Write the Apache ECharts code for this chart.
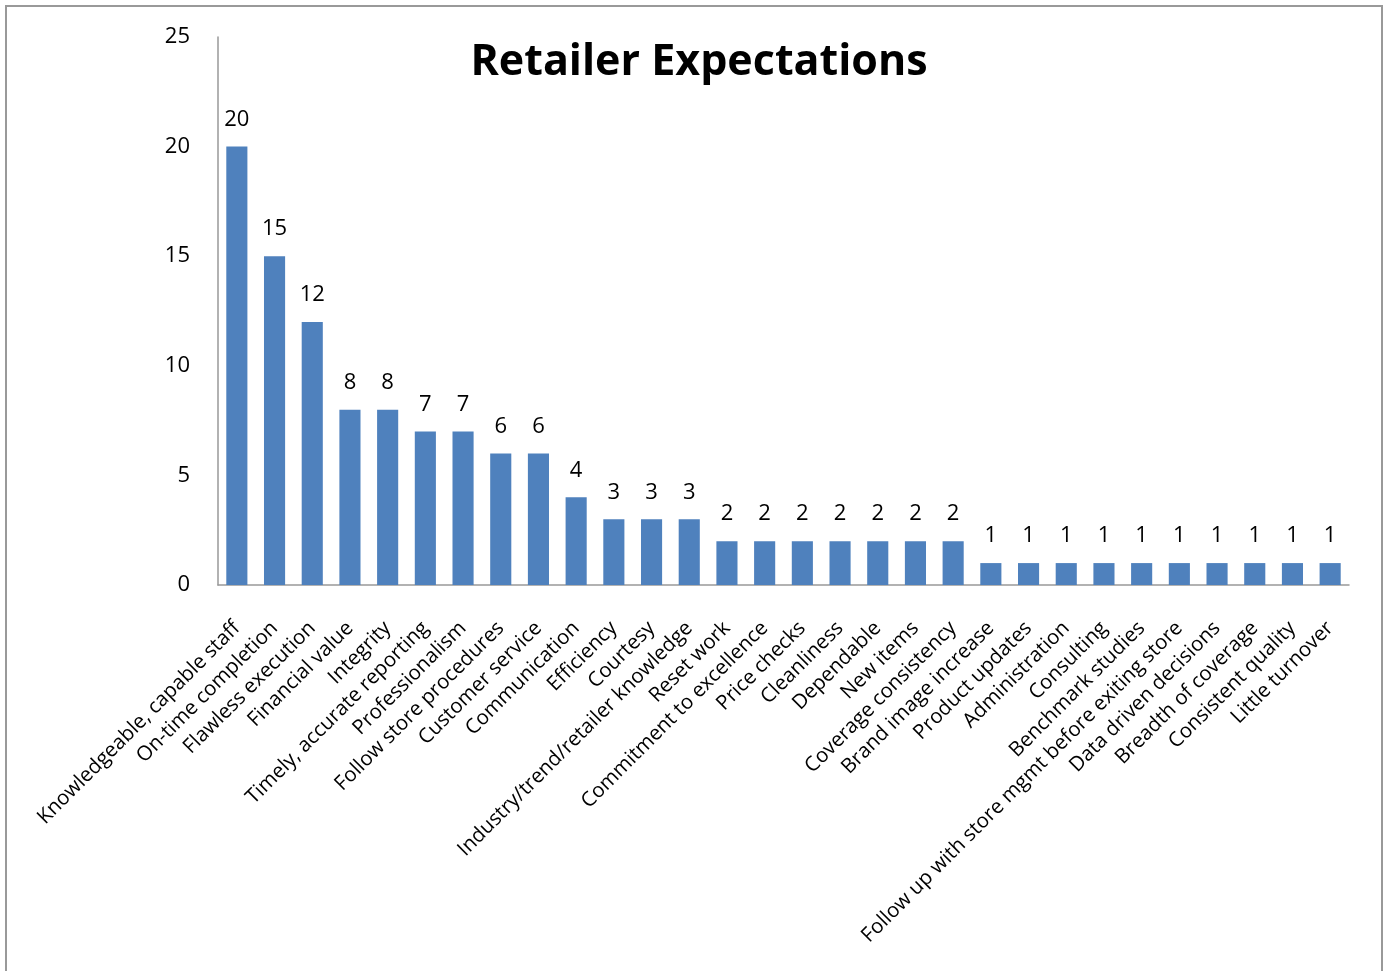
<!DOCTYPE html>
<html><head><meta charset="utf-8">
<script src="https://cdn.jsdelivr.net/npm/echarts@6/dist/echarts.min.js"></script>
<style>html,body{margin:0;padding:0;background:#fff;}#c{width:1387px;height:971px;}</style>
</head><body><div id="c"></div>
<script>
const categories = ["Knowledgeable, capable staff","On-time completion","Flawless execution","Financial value","Integrity","Timely, accurate reporting","Professionalism","Follow store procedures","Customer service","Communication","Efficiency","Courtesy","Industry/trend/retailer knowledge","Reset work","Commitment to excellence","Price checks","Cleanliness","Dependable","New items","Coverage consistency","Brand image increase","Product updates","Administration","Consulting","Benchmark studies","Follow up with store mgmt before exiting store","Data driven decisions","Breadth of coverage","Consistent quality","Little turnover"];
const values = [20,15,12,8,8,7,7,6,6,4,3,3,3,2,2,2,2,2,2,2,1,1,1,1,1,1,1,1,1,1];
const titleText = "Retailer Expectations";
const FONT = "Open Sans";
const chart = echarts.init(document.getElementById('c'));
chart.setOption({
  animation:false,
  textStyle:{fontFamily:FONT},
  title:{text:titleText,left:694,top:36,textAlign:'center',textStyle:{fontFamily:FONT,fontSize:43,fontWeight:'bold',color:'#000'}},
  graphic:[{type:'rect',silent:true,z:-1,shape:{x:6,y:6,width:1376,height:1010},style:{fill:'none',stroke:'#999',lineWidth:2}}],
  grid:{left:218,right:38,top:37,bottom:386,containLabel:false},
  xAxis:{type:'category',data:categories,
    axisLine:{lineStyle:{color:'#999',width:1.5}},axisTick:{show:false},
    axisLabel:{rotate:45,interval:0,fontSize:20.4,color:'#000',margin:40,padding:[14,0,0,0],fontFamily:FONT}},
  yAxis:{type:'value',min:0,max:25,interval:5,
    axisLine:{show:true,lineStyle:{color:'#999',width:1.5}},axisTick:{show:false},splitLine:{show:false},
    axisLabel:{fontSize:22,color:'#000',margin:28,fontFamily:FONT}},
  series:[{type:'bar',data:values,barCategoryGap:'44%',itemStyle:{color:'#4F81BD'},
    label:{show:true,position:'top',distance:16,fontSize:22,color:'#000',fontFamily:FONT}}]
});
</script></body></html>
